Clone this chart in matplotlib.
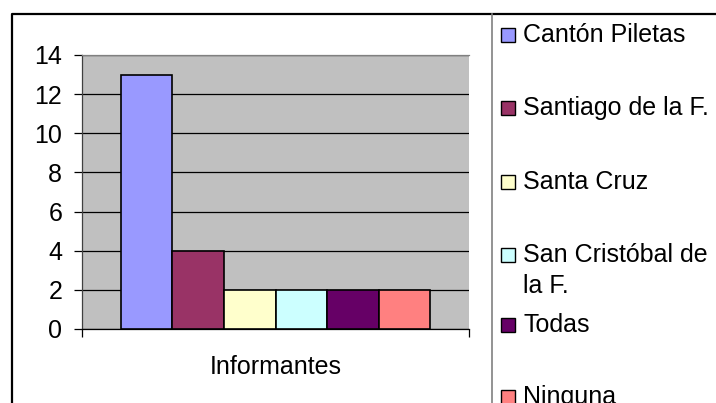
import matplotlib.pyplot as plt
from matplotlib.lines import Line2D
from matplotlib.patches import Rectangle

# Informantes por localidad
categorias = ["Cantón Piletas", "Santiago de la F.", "Santa Cruz",
              "San Cristóbal de\nla F.", "Todas", "Ninguna"]
valores = [13, 4, 2, 2, 2, 2]
colores = ["#9999FF", "#993366", "#FFFFCC", "#CCFFFF", "#660066", "#FF8080"]
y_ticks = [0, 2, 4, 6, 8, 10, 12, 14]
etiqueta_x = "Informantes"

W, H = 716, 403
FS = 18
plt.rcParams['font.family'] = ['Liberation Sans', 'DejaVu Sans']
fig = plt.figure(figsize=(W / 100, H / 100), dpi=100)


def px_box(x0, y0, x1, y1):
    """pixel box (top-left origin) -> figure fraction rect"""
    return [x0 / W, 1 - y1 / H, (x1 - x0) / W, (y1 - y0) / H]


ax = fig.add_axes(px_box(82, 55, 469, 329))
ax.set_facecolor("#C0C0C0")

margin = 0.757
for i, (v, c) in enumerate(zip(valores, colores)):
    ax.bar(i, v, width=1.0, color=c, edgecolor="black", linewidth=1.2, zorder=3)

x_lo, x_hi = -0.5 - margin, 5.5 + margin
ax.set_xlim(x_lo, x_hi)
ax.set_ylim(0, 14)
ax.set_yticks(y_ticks)
ax.yaxis.grid(True, color="black", linewidth=0.9, zorder=1)
ax.set_axisbelow(True)
ax.tick_params(axis="y", labelsize=FS, length=5.8, width=0.9, pad=8.5, colors="black")

ax.set_xticks([x_lo, x_hi])
ax.set_xticklabels(["", ""])
ax.tick_params(axis="x", length=5.8, width=0.9, direction="out")
ax.set_xticks([2.5], minor=True)
ax.set_xticklabels([etiqueta_x], minor=True, fontsize=FS)
ax.tick_params(axis="x", which="minor", length=0, pad=19)

ax.spines["right"].set_visible(False)
ax.spines["top"].set_color("#808080")
ax.spines["left"].set_color("#404040")
ax.spines["bottom"].set_color("black")
for s in ax.spines.values():
    s.set_linewidth(0.9)

# marco exterior del gráfico y separador de la leyenda
fig.add_artist(Line2D([12 / W, 12 / W, 1.0], [0.0, 1 - 14 / H, 1 - 14 / H],
                      color="black", linewidth=1.6, transform=fig.transFigure))
fig.add_artist(Line2D([491.5 / W, 491.5 / W], [0.0, 1 - 14 / H],
                      color="#808080", linewidth=1.2, transform=fig.transFigure))

# leyenda manual (el texto largo va en dos renglones)
leyenda_y = [35, 108, 182, 255, 325, 397]
sq = 14
for nombre, c, yc in zip(categorias, colores, leyenda_y):
    fig.add_artist(Rectangle((501 / W, 1 - (yc + sq / 2) / H), sq / W, sq / H,
                             facecolor=c, edgecolor="black", linewidth=1.0,
                             transform=fig.transFigure))
    for k, renglon in enumerate(nombre.split("\n")):
        fig.text(523 / W, 1 - (yc + 31 * k) / H, renglon, fontsize=FS,
                 va="center", ha="left", transform=fig.transFigure)

fig.savefig("out.png", dpi=100, facecolor="white")
